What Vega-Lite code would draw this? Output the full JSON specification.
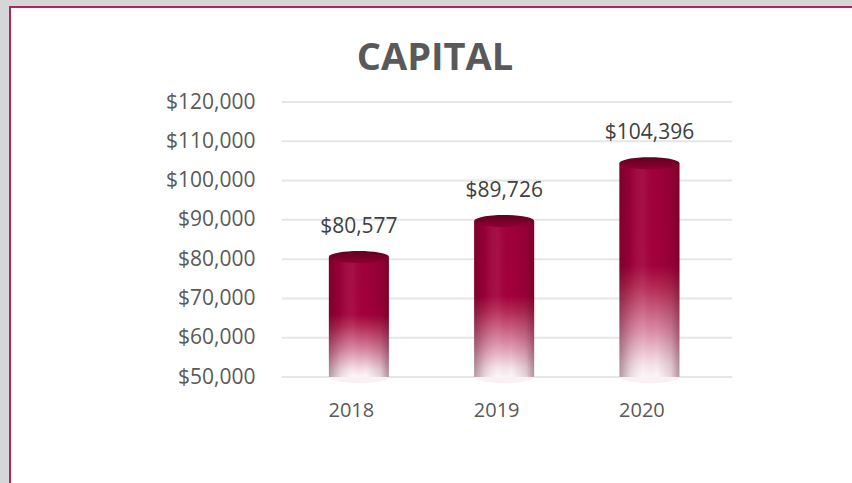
{
  "$schema": "https://vega.github.io/schema/vega-lite/v6.json",
  "autosize": "none",
  "width": 850,
  "height": 480,
  "padding": {"left": 10, "top": 7, "right": 0, "bottom": 0},
  "background": "#d6d6d6",
  "config": {
    "font": "Open Sans",
    "view": {"fill": "white", "stroke": "#b3245c", "strokeWidth": 2}
  },
  "title": {
    "text": "CAPITAL",
    "fontSize": 38,
    "fontWeight": "bold",
    "font": "Open Sans",
    "color": "#595959",
    "anchor": "middle",
    "baseline": "alphabetic",
    "offset": -101
  },
  "datasets": {
    "capital": [
      {"year": 2018, "capital": 80577},
      {"year": 2019, "capital": 89726},
      {"year": 2020, "capital": 104396}
    ],
    "ticks": [
      {"v": 50000}, {"v": 60000}, {"v": 70000}, {"v": 80000},
      {"v": 90000}, {"v": 100000}, {"v": 110000}, {"v": 120000}
    ]
  },
  "layer": [
    {
      "data": {"name": "ticks"},
      "mark": {"type": "rule", "color": "#e6e6e6", "strokeWidth": 2},
      "encoding": {
        "y": {
          "field": "v", "type": "quantitative",
          "scale": {"domain": [22000, 144182], "nice": false, "zero": false},
          "axis": {
            "values": [50000, 60000, 70000, 80000, 90000, 100000, 110000, 120000],
            "format": "$,.0f",
            "offset": -265,
            "domain": false, "ticks": false, "tickSize": 0, "grid": false,
            "labelPadding": 20, "labelFontSize": 21, "labelColor": "#595959",
            "labelFont": "Open Sans", "title": null
          }
        },
        "x": {
          "datum": 2017.47, "type": "quantitative",
          "scale": {"domain": [2015.633, 2021.415], "nice": false, "zero": false},
          "axis": {
            "values": [2018, 2019, 2020], "format": "d",
            "offset": -77, "domain": false, "ticks": false, "tickSize": 0,
            "labelPadding": 0, "labelBaseline": "middle", "labelAngle": 0, "labelFlush": false,
            "labelOffset": -8,
            "labelFontSize": 20, "labelColor": "#595959", "labelFont": "Open Sans",
            "title": null, "grid": false
          }
        },
        "x2": {"datum": 2020.57}
      }
    },
    {
      "data": {"name": "capital"},
      "mark": {
        "type": "point", "filled": true, "opacity": 1, "size": 3600,
        "shape": "M -1 0 A 1 0.2 0 1 0 1 0 A 1 0.2 0 1 0 -1 0 Z",
        "fill": "#fbf0f4"
      },
      "encoding": {
        "x": {"field": "year", "type": "quantitative"},
        "y": {"datum": 50000, "type": "quantitative"}
      }
    },
    {
      "data": {"name": "capital"},
      "mark": {
        "type": "bar", "width": 60,
        "fill": {
          "gradient": "linear", "x1": 0, "y1": 0, "x2": 0, "y2": 1,
          "stops": [
            {"offset": 0, "color": "#a0003a"},
            {"offset": 0.48, "color": "#a3003b"},
            {"offset": 0.58, "color": "#b42a55"},
            {"offset": 0.78, "color": "#d98aa5"},
            {"offset": 0.94, "color": "#f5e2e9"},
            {"offset": 1, "color": "#fdf7f9"}
          ]
        }
      },
      "encoding": {
        "x": {"field": "year", "type": "quantitative"},
        "y": {"field": "capital", "type": "quantitative"},
        "y2": {"datum": 50000}
      }
    },
    {
      "data": {"name": "capital"},
      "mark": {
        "type": "bar", "width": 60,
        "fill": {
          "gradient": "linear", "x1": 0, "y1": 0, "x2": 1, "y2": 0,
          "stops": [
            {"offset": 0, "color": "rgba(70,0,22,0.38)"},
            {"offset": 0.18, "color": "rgba(70,0,22,0.12)"},
            {"offset": 0.4, "color": "rgba(255,255,255,0.06)"},
            {"offset": 0.62, "color": "rgba(70,0,22,0)"},
            {"offset": 0.86, "color": "rgba(70,0,22,0.14)"},
            {"offset": 1, "color": "rgba(70,0,22,0.4)"}
          ]
        }
      },
      "encoding": {
        "x": {"field": "year", "type": "quantitative"},
        "y": {"field": "capital", "type": "quantitative"},
        "y2": {"datum": 50000}
      }
    },
    {
      "data": {"name": "capital"},
      "mark": {
        "type": "point", "filled": true, "opacity": 1, "size": 3600,
        "shape": "M -1 0 A 1 0.2 0 1 0 1 0 A 1 0.2 0 1 0 -1 0 Z",
        "fill": {
          "gradient": "linear", "x1": 0, "y1": 0, "x2": 0, "y2": 1,
          "stops": [
            {"offset": 0, "color": "#62001f"},
            {"offset": 1, "color": "#8e0032"}
          ]
        }
      },
      "encoding": {
        "x": {"field": "year", "type": "quantitative"},
        "y": {"field": "capital", "type": "quantitative"}
      }
    },
    {
      "data": {"name": "capital"},
      "mark": {"type": "text", "dy": -30, "fontSize": 21, "color": "#404040", "font": "Open Sans", "baseline": "middle"},
      "encoding": {
        "x": {"field": "year", "type": "quantitative"},
        "y": {"field": "capital", "type": "quantitative"},
        "text": {"field": "capital", "type": "quantitative", "format": "$,.0f"}
      }
    }
  ]
}
